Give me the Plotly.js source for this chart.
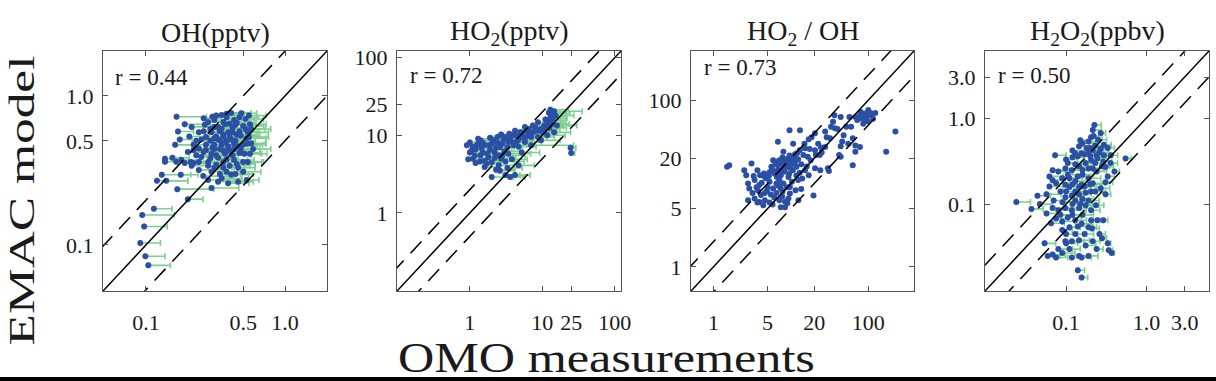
<!DOCTYPE html>
<html><head><meta charset="utf-8">
<script src="https://cdn.plot.ly/plotly-3.0.1.min.js"></script>
<style>html,body{margin:0;padding:0;background:#fff}#chart{width:1216px;height:381px}</style>
</head><body><div id="chart"></div>
<script>
// ---------- DATA ----------
const panelTitles = ['OH(pptv)', 'HO<sub>2</sub>(pptv)', 'HO<sub>2</sub> / OH', 'H<sub>2</sub>O<sub>2</sub>(ppbv)'];
const rValues = ['0.44', '0.72', '0.73', '0.50'];
const xAxisTitle = 'OMO measurements';
const yAxisTitle = 'EMAC model';

const ohTicks = [0.1, 0.5, 1.0];
const ohTickText = ['0.1', '0.5', '1.0'];
const ho2Ticks = [1, 10, 25, 100];
const ho2TickText = ['1', '10', '25', '100'];
const ratioTicks = [1, 5, 20, 100];
const ratioTickText = ['1', '5', '20', '100'];
const h2o2Ticks = [0.1, 1.0, 3.0];
const h2o2TickText = ['0.1', '1.0', '3.0'];

const ohMeas = [0.104,0.099,0.091,0.097,0.094,0.114,0.200,0.168,0.296,0.120,0.140,0.130,0.178,0.137,0.137,0.155,0.165,0.166,0.170,0.175,
0.162,0.213,0.190,0.205,0.220,0.213,0.240,0.258,0.280,0.330,0.390,0.460,0.530,0.410,0.460,0.540,0.560,0.570,0.540,0.560,
0.485,0.410,0.350,0.300,0.260,0.265,0.310,0.370,0.430,0.500,0.296,0.340,0.390,0.450,0.240,0.250,0.290,0.330,0.380,0.430,
0.500,0.240,0.270,0.310,0.360,0.410,0.470,0.250,0.290,0.330,0.380,0.430,0.500,0.280,0.320,0.360,0.400,0.296,0.340,0.230,
0.350,0.390,0.310,0.420,0.470,0.280,0.530,0.510,0.260,0.360,0.410,0.320,0.460,0.296,0.370,0.220,0.240,0.210,0.190,0.180,
0.350,0.440,0.380,0.520,0.320,0.430,0.270,0.360,
0.31,0.34,0.37,0.40,0.44,0.48,0.52,0.45,0.40,0.33,0.36,0.29,0.27,0.31,0.42,0.45,0.48,0.53,0.55,0.26,
0.23,0.28,0.31,0.38,0.44,0.50,0.35,0.42,0.47,0.55,0.38,0.32,0.22,0.20,0.57,0.59,0.34,0.39,0.36,0.30];
const ohModel = [0.073,0.084,0.103,0.133,0.159,0.175,0.203,0.237,0.241,0.270,0.270,0.296,0.296,0.362,0.379,0.385,0.362,0.726,0.578,0.510,
0.470,0.620,0.645,0.535,0.434,0.340,0.319,0.290,0.273,0.266,0.260,0.266,0.273,0.296,0.330,0.360,0.410,0.480,0.570,0.645,
0.765,0.770,0.745,0.726,0.710,0.640,0.620,0.645,0.690,0.630,0.570,0.580,0.570,0.550,0.570,0.510,0.500,0.510,0.500,0.480,
0.470,0.445,0.434,0.440,0.430,0.425,0.415,0.390,0.380,0.385,0.375,0.372,0.360,0.340,0.345,0.330,0.340,0.310,0.300,0.500,
0.470,0.460,0.690,0.610,0.580,0.670,0.520,0.410,0.580,0.535,0.510,0.535,0.460,0.410,0.410,0.355,0.360,0.360,0.355,0.372,
0.600,0.640,0.720,0.700,0.400,0.440,0.470,0.360,
0.47,0.44,0.49,0.53,0.50,0.54,0.60,0.66,0.65,0.62,0.67,0.60,0.53,0.52,0.40,0.35,0.44,0.48,0.53,0.42,
0.40,0.36,0.33,0.31,0.30,0.31,0.28,0.57,0.72,0.74,0.76,0.74,0.47,0.42,0.60,0.44,0.50,0.43,0.55,0.45];
const ohErr = [0.046,0.038,0.036,0.045,0.066,0.040,0.057,0.140,0.170,0.080,0.060,0.080,0.060,0.030,0.040,0.050,0.070,0.107,0.050,0.040,
0.060,0.090,0.070,0.080,0.100,0.120,0.100,0.130,0.150,0.120,0.160,0.130,0.120,0.140,0.150,0.160,0.180,0.150,0.220,0.170,
0.140,0.160,0.120,0.100,0.090,0.110,0.130,0.150,0.170,0.200,0.100,0.120,0.140,0.180,0.080,0.090,0.110,0.130,0.150,0.160,
0.190,0.090,0.110,0.120,0.140,0.170,0.190,0.100,0.120,0.130,0.160,0.170,0.180,0.110,0.140,0.150,0.160,0.120,0.140,0.080,
0.130,0.150,0.120,0.160,0.180,0.100,0.200,0.170,0.090,0.140,0.160,0.120,0.170,0.110,0.140,0.090,0.100,0.080,0.070,0.070,
0.130,0.150,0.130,0.180,0.120,0.160,0.100,0.140,
0.12,0.13,0.15,0.15,0.17,0.18,0.20,0.17,0.15,0.12,0.13,0.11,0.10,0.12,0.15,0.16,0.18,0.20,0.21,0.10,
0.09,0.11,0.12,0.14,0.15,0.17,0.14,0.15,0.17,0.18,0.13,0.12,0.09,0.08,0.22,0.20,0.13,0.15,0.14,0.11];

const ho2Meas = [0.91,0.95,1.05,1.17,1.24,1.45,1.38,1.69,1.75,1.85,2.1,2.29,2.2,2.5,2.0,3.1,3.6,4.2,2.8,3.1,
3.4,3.8,4.0,4.7,5.2,5.75,6.4,7.0,8.3,8.7,9.6,10.6,11.7,12.3,12.9,14.5,15.2,13.9,15.9,14.5,
24.5,25.0,1.0,1.1,1.5,1.6,2.8,3.4,5.2,4.7,7.0,9.6,11.7,2.4,4.2,3.1,2.3,4.7,1.3,7.4,
5.75,8.7,1.9,2.6,3.0,3.6,4.4,5.0,6.0,1.4,2.0,1.2,2.7,3.8,6.5,10.0,12.5,13.0,11.0,
1.0,1.1,1.3,1.5,1.6,1.8,2.0,2.2,2.4,2.5,2.9,3.3,3.5,3.9,4.3,4.6,5.0,5.5,6.0,6.8,
7.5,8.0,9.0,10.5,11.5,12.0,13.5,14.0,1.2,1.6,2.6,3.3,1.9,2.7,1.4];
const ho2Model = [7.45,4.9,6.3,5.5,7.45,6.9,4.6,4.3,5.8,7.45,8.6,6.9,5.1,4.1,2.9,3.07,2.9,3.07,7.8,9.5,
8.2,10.0,7.45,9.1,10.4,8.2,10.9,9.5,11.4,9.5,12.0,13.4,14.7,19.5,21.3,20.4,18.0,16.5,13.4,10.9,
6.9,5.9,8.1,7.1,8.1,4.7,5.5,5.8,6.0,7.1,7.45,8.6,10.0,9.5,11.4,4.6,3.6,4.1,9.0,13.4,
12.8,14.7,6.5,7.0,6.2,9.0,8.4,9.8,9.5,5.5,4.5,6.6,5.0,4.9,12.0,11.0,12.5,17.5,16.0,
6.0,5.0,7.8,6.0,7.5,5.2,7.8,6.0,8.0,5.5,8.8,7.0,10.5,8.0,10.0,8.5,11.0,9.2,11.5,10.0,
11.0,12.5,11.5,12.0,13.0,15.5,14.0,19.0,4.4,3.9,3.5,3.8,9.3,10.2,8.6];
const ho2Err = [0.6,0.5,0.7,0.6,0.8,0.9,0.7,1.0,1.2,1.3,1.2,1.5,1.4,1.6,2.0,1.8,2.2,2.6,1.6,1.9,
2.2,2.0,2.8,3.0,3.2,4.0,4.0,4.5,5.0,6.0,6.0,7.0,8.0,9.0,10.0,21.0,12.0,8.0,14.0,10.0,
4.5,3.0,0.7,0.6,1.0,0.9,3.0,3.5,4.0,3.5,20.0,8.0,9.0,1.5,2.5,2.5,1.8,3.0,0.8,4.0,
3.5,5.0,1.1,1.5,1.9,2.2,2.8,3.0,4.0,0.8,1.2,0.7,1.6,2.4,4.5,6.0,9.0,8.0,7.0,
0.6,0.7,0.8,0.9,1.0,1.1,1.2,1.3,1.5,1.5,1.8,2.0,2.1,2.4,2.6,2.8,3.0,3.5,3.8,4.2,
5.0,5.5,6.0,7.0,8.0,9.0,10.0,10.0,0.7,0.9,1.6,2.0,1.2,1.7,0.9];

const ratioMeas = [1.5,1.6,2.5,3.1,2.65,3.7,4.0,4.6,2.9,3.2,3.4,3.75,4.1,4.6,3.9,5.0,5.3,5.9,6.5,7.1,
7.7,8.4,9.3,7.4,8.0,9.7,11.5,13.6,19.6,6.5,6.8,7.1,7.8,8.6,9.0,10.0,11.3,12.4,11.8,10.6,
9.5,8.2,7.4,6.8,6.2,5.6,5.9,13.6,14.5,13.0,10.7,6.8,9.6,13.1,18.5,20.5,22.5,24.5,27.7,23.5,
20.5,32,35,36.5,44,46,44,42,44,57,63,68,68,78,63,68,78,84,91,107,
123,95,111,86,224,170,24,20.5,30,31,9.3,12.4,4.6,5.3,3.7,7.4,8.4,12.5,16.5,15.2,
17.5,5.3,4.8,3.4,7.8,9.6,11.3,15.2,17.0,2.8,37,52,27.7,7.1,6.5,9.7,
6.0,6.6,7.2,7.9,8.8,9.4,10.2,11.0,9.9,8.5,7.5,6.3,5.7,5.2,4.5,4.2,3.6,4.9,5.5,6.1,
6.9,7.8,8.9,10.3,11.8,13.0,14.0,16.0,18.0,21.0,25.0,29.0,33.0,40.0,48.0,55.0,60.0,72.0,80.0,100.0,
115.0,98.0,3.3,2.8,3.9,4.4,5.8,9.0,12.0,15.0,17.0,8.0];
const ratioModel = [15.9,16.6,14.4,17.4,12.6,14.4,12.6,12.0,8.7,7.7,6.6,8.3,7.3,6.3,9.6,9.1,10.5,8.7,7.7,6.3,
7.0,6.1,6.6,8.7,10.0,9.1,8.3,8.6,7.2,18.2,16.6,19.0,17.4,15.9,18.2,16.6,18.2,19.5,15.9,14.4,
13.1,13.8,12.6,14.4,13.1,15.9,19.0,17.0,22,25,30,31.6,43.7,43.7,36,40,30,27,27.5,22,
25,35,55,66,63,32,28,22,21,63,35,28.5,24,27.5,16.6,63,66,60,69,70,
70,63,65,52,42,24,14.4,15.2,15.2,14.1,12.0,11.0,7.7,5.9,5.9,5.2,5.2,6.3,21,26.5,
26,13.6,11.6,11.0,20.5,21.7,22.5,14.4,12.6,6.3,46,48,42,11.0,10.0,7.6,
14.0,12.0,13.5,15.0,16.5,15.5,17.8,19.8,20.5,19.5,18.5,17.0,14.8,12.3,13.2,10.2,9.0,8.2,7.4,6.8,
9.4,8.0,9.0,10.5,12.5,13.5,11.5,16.0,19.0,22.0,23.5,36.0,48.0,45.0,38.0,30.0,48.0,58.0,72.0,76.0,
60.0,56.0,12.3,10.0,6.0,5.5,5.6,5.8,23.0,30.0,34.0,24.0];

const h2o2Meas = [0.225,0.27,0.215,0.15,0.16,0.073,0.024,0.037,0.044,0.13,0.156,0.19,0.215,0.27,0.295,0.245,0.205,0.175,0.145,0.118,
0.358,0.55,0.40,0.33,0.062,0.068,0.075,0.0895,0.105,0.13,0.156,0.19,0.215,0.27,0.205,0.175,0.145,0.118,0.098,0.085,
0.057,0.047,0.068,0.08,0.098,0.118,0.145,0.175,0.205,0.31,0.29,0.057,0.075,0.0895,0.105,0.13,0.156,0.19,0.11,0.0895,
0.054,0.059,0.068,0.0895,0.1,0.118,0.145,0.156,0.19,0.215,0.28,0.33,0.34,0.37,0.14,0.156,0.098,0.145,0.175,0.118,
0.075,0.205,0.245,0.19,0.205,0.295,0.145,0.105,0.13,0.098,0.215,0.28,0.068,0.08,0.062,0.19,0.235,0.145,0.11,0.098,
0.12,0.16,0.23,0.11,0.13,0.16,0.24,0.20,
0.12,0.14,0.17,0.20,0.23,0.25,0.22,0.18,0.26,0.29,0.31,0.24,0.19,0.16,0.14,0.12,0.10,0.13,0.17,0.20,
0.23,0.15,0.12,0.09,0.07,0.085,0.12,0.16,0.14,0.10,0.08,0.11,0.13,0.17,0.24,0.26,0.21,0.065,0.31,0.36,
0.33,0.10];
const h2o2Model = [0.83,0.67,0.725,0.554,0.51,0.37,0.106,0.088,0.125,0.39,0.39,0.405,0.424,0.44,0.37,0.34,0.325,0.30,0.275,0.248,
0.30,0.34,0.24,0.21,0.21,0.19,0.175,0.2,0.22,0.185,0.168,0.2,0.175,0.153,0.14,0.136,0.13,0.126,0.12,0.14,
0.13,0.1,0.09,0.085,0.09,0.085,0.09,0.097,0.085,0.13,0.065,0.078,0.068,0.063,0.07,0.065,0.059,0.054,0.054,0.05,
0.035,0.025,0.026,0.027,0.035,0.037,0.025,0.024,0.025,0.037,0.04,0.035,0.029,0.027,0.017,0.014,0.037,0.038,0.033,0.024,
0.024,0.065,0.065,0.535,0.6,0.49,0.47,0.30,0.29,0.26,0.26,0.275,0.248,0.24,0.16,0.11,0.097,0.158,0.158,0.168,
0.35,0.22,0.30,0.20,0.11,0.115,0.37,0.45,
0.42,0.36,0.38,0.36,0.48,0.56,0.62,0.45,0.40,0.31,0.27,0.24,0.26,0.25,0.21,0.17,0.14,0.14,0.16,0.17,
0.14,0.10,0.10,0.105,0.11,0.075,0.075,0.075,0.055,0.045,0.03,0.03,0.045,0.045,0.03,0.045,0.052,0.06,0.18,0.37,
0.45,0.33];
const h2o2Err = [0.05,0.04,0.06,0.05,0.07,0.027,0.012,0.015,0.02,0.05,0.06,0.07,0.08,0.06,0.08,0.09,0.08,0.07,0.06,0.05,
0.08,0.10,0.06,0.07,0.03,0.03,0.035,0.04,0.05,0.06,0.07,0.08,0.09,0.08,0.08,0.07,0.06,0.05,0.05,0.04,
0.03,0.02,0.03,0.04,0.05,0.06,0.06,0.08,0.06,0.05,0.04,0.02,0.03,0.04,0.05,0.05,0.06,0.05,0.04,0.03,
0.02,0.025,0.03,0.04,0.04,0.05,0.05,0.05,0.06,0.05,0.04,0.03,0.04,0.03,0.03,0.03,0.04,0.05,0.06,0.04,
0.03,0.06,0.05,0.06,0.05,0.07,0.05,0.05,0.06,0.04,0.08,0.07,0.03,0.04,0.03,0.07,0.06,0.06,0.05,0.05,
0.05,0.06,0.08,0.05,0.06,0.06,0.08,0.06,
0.05,0.06,0.06,0.07,0.07,0.07,0.06,0.06,0.08,0.08,0.08,0.08,0.07,0.06,0.06,0.05,0.05,0.06,0.07,0.08,
0.08,0.06,0.05,0.04,0.03,0.04,0.05,0.06,0.05,0.04,0.04,0.04,0.05,0.05,0.05,0.05,0.05,0.03,0.07,0.08,
0.07,0.04];

const oneToOneFactor = 1;
const envelopeFactor = 2;

// ---------- LAYOUT (positions / styles) ----------
const W = 1216, H = 381;
const FONT = 'Liberation Serif, Times New Roman, Times, serif';
const BLUE = '#2c4fa6', GREEN = '#7dd08f', AXC = '#555';
const boxes = [[103, 327], [397, 621], [691, 914], [985, 1209]];
const yTopPx = 51, yBotPx = 291;
// same log10 limits on both axes of each panel (the 1:1 line runs corner to corner)
const ranges = [[-1.309, 0.302], [-1.005, 2.085], [-0.29, 2.59], [-2.01, 0.78]];
const tickSets = [[ohTicks, ohTickText], [ho2Ticks, ho2TickText], [ratioTicks, ratioTickText], [h2o2Ticks, h2o2TickText]];
const rLabelPx = [[113, 78], [408, 75], [702, 67], [996, 76]];

const px = v => v / W, py = v => 1 - v / H;

const panels = [
  {x: ohMeas, y: ohModel, e: ohErr},
  {x: ho2Meas, y: ho2Model, e: ho2Err},
  {x: ratioMeas, y: ratioModel, e: null},
  {x: h2o2Meas, y: h2o2Model, e: h2o2Err}
];

const traces = [];
const layout = {
  width: W, height: H, margin: {l: 0, r: 0, t: 0, b: 0},
  paper_bgcolor: '#fff', plot_bgcolor: '#fff', showlegend: false,
  font: {family: FONT, color: '#1a1a1a'},
  annotations: [], shapes: []
};

panels.forEach((p, i) => {
  const n = i === 0 ? '' : String(i + 1);
  const xa = 'x' + n, ya = 'y' + n;
  const tr = {
    type: 'scatter', mode: 'markers', x: p.x, y: p.y, xaxis: xa, yaxis: ya,
    marker: {size: 6, color: BLUE, line: {width: 0}}, hoverinfo: 'skip'
  };
  if (p.e) {
    tr.error_x = {type: 'data', symmetric: false, array: p.e, arrayminus: p.e.map(() => 0),
      color: GREEN, thickness: 1.6, width: 3};
  }
  traces.push(tr);
  // reference lines y = k x (k = 1, 2, 1/2) drawn through the axis scales
  const span = [1e-4, 1e5];
  [[oneToOneFactor, 'solid'], [envelopeFactor, '16px,10px'], [1 / envelopeFactor, '16px,10px']].forEach(([k, dash]) => {
    traces.push({type: 'scatter', mode: 'lines', x: span, y: span.map(v => v * k), xaxis: xa, yaxis: ya,
      line: {color: '#000', width: 1.5, dash: dash}, hoverinfo: 'skip'});
  });
  const common = {
    type: 'log', showgrid: false, zeroline: false, showline: true, linecolor: AXC, linewidth: 1,
    mirror: 'ticks', ticks: 'inside', ticklen: 5, tickwidth: 1, tickcolor: AXC,
    tickvals: tickSets[i][0], ticktext: tickSets[i][1], range: ranges[i],
    tickfont: {family: FONT, size: 22, color: '#1a1a1a'}, fixedrange: true
  };
  layout['xaxis' + n] = Object.assign({}, common, {
    domain: [px(boxes[i][0]), px(boxes[i][1])], anchor: ya, ticklabelstandoff: 12
  });
  layout['yaxis' + n] = Object.assign({}, common, {
    domain: [py(yBotPx), py(yTopPx)], anchor: xa, ticklabelstandoff: 4
  });
  layout.annotations.push({
    xref: 'paper', yref: 'paper', x: px((boxes[i][0] + boxes[i][1]) / 2), y: py(32),
    xanchor: 'center', yanchor: 'middle', showarrow: false, text: panelTitles[i],
    font: {family: FONT, size: 28, color: '#1a1a1a'}
  });
  layout.annotations.push({
    xref: 'paper', yref: 'paper', x: px(rLabelPx[i][0]), y: py(rLabelPx[i][1]),
    xanchor: 'left', yanchor: 'middle', showarrow: false, text: 'r = ' + rValues[i],
    font: {family: FONT, size: 23, color: '#1a1a1a'}
  });
});

const yTitleIndex = layout.annotations.length;
layout.annotations.push({
  xref: 'paper', yref: 'paper', x: px(22), y: py(201), xanchor: 'center', yanchor: 'middle',
  textangle: -90, showarrow: false, text: yAxisTitle, font: {family: FONT, size: 36, color: '#1a1a1a'}
});
const xTitleIndex = layout.annotations.length;
layout.annotations.push({
  xref: 'paper', yref: 'paper', x: px(606), y: py(358), xanchor: 'center', yanchor: 'middle',
  showarrow: false, text: xAxisTitle, font: {family: FONT, size: 42, color: '#1a1a1a'}
});
layout.shapes.push({type: 'rect', xref: 'paper', yref: 'paper', x0: 0, x1: 1, y0: 0, y1: 4 / H,
  fillcolor: '#000', line: {width: 0}, layer: 'above'});

// the original big axis labels are set in a wide face: widen the glyphs to the measured lengths
const labelLengths = {};
labelLengths[yTitleIndex] = 290;
labelLengths[xTitleIndex] = 417;

Plotly.newPlot('chart', traces, layout, {displayModeBar: false, staticPlot: true}).then(gd => {
  gd.querySelectorAll('g.annotation').forEach(g => {
    const idx = g.getAttribute('data-index');
    if (labelLengths[idx]) {
      const t = g.querySelector('text.annotation-text');
      if (t) {
        t.setAttribute('textLength', labelLengths[idx]);
        t.setAttribute('lengthAdjust', 'spacingAndGlyphs');
      }
    }
  });
  // drop the empty placeholder axis-title nodes (this figure has shared titles instead)
  gd.querySelectorAll('text').forEach(t => {
    if (!t.textContent.trim()) t.remove();
  });
});
</script></body></html>
